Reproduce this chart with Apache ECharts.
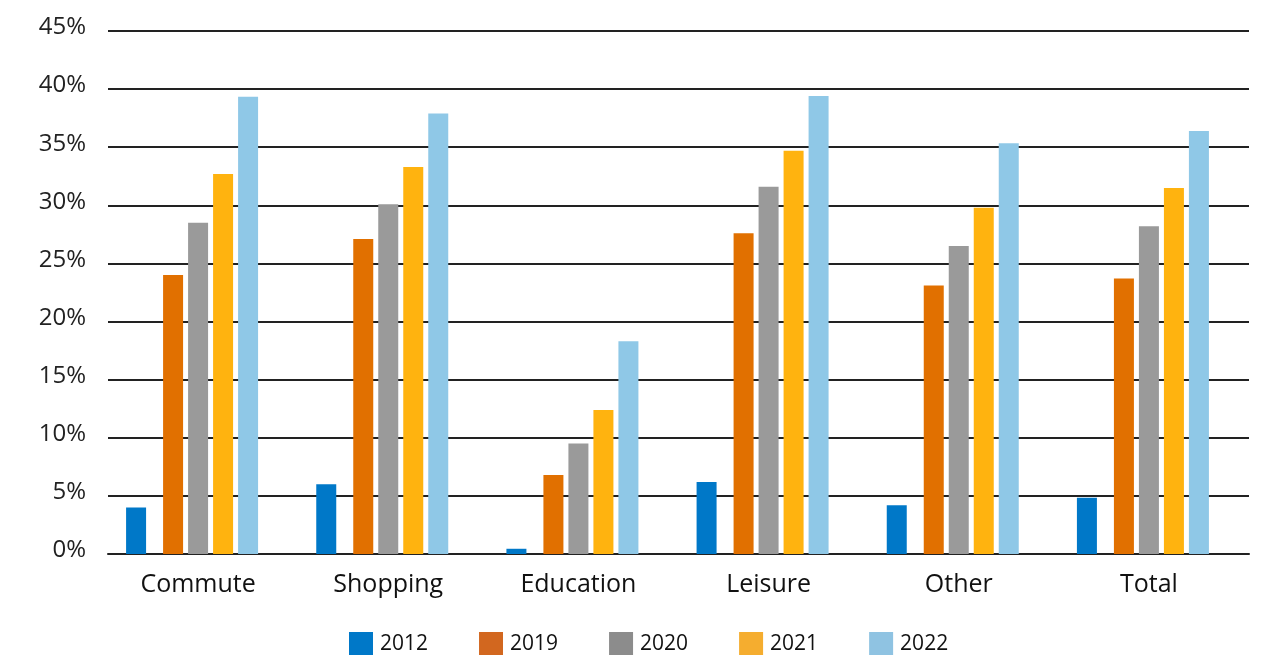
<!DOCTYPE html>
<html>
<head>
<meta charset="utf-8">
<script src="https://cdn.jsdelivr.net/npm/echarts@6/dist/echarts.min.js"></script>
<style>
  html, body { margin: 0; padding: 0; background: #ffffff; }
  #chart { width: 1266px; height: 655px; }
</style>
</head>
<body>
<div id="chart"></div>
<script>
// ---- Data ----
const categories = ['Commute', 'Shopping', 'Education', 'Leisure', 'Other', 'Total'];
const years = ['2012', '2019', '2020', '2021', '2022'];
const v2012 = [4.0, 6.0, 0.45, 6.2, 4.2, 4.85];
const v2019 = [24.0, 27.1, 6.8, 27.6, 23.1, 23.7];
const v2020 = [28.5, 30.1, 9.5, 31.6, 26.5, 28.2];
const v2021 = [32.7, 33.3, 12.4, 34.7, 29.8, 31.5];
const v2022 = [39.35, 37.9, 18.3, 39.4, 35.35, 36.4];
const yTicks = [0, 5, 10, 15, 20, 25, 30, 35, 40, 45];

// ---- Styles ----
const barColors = { '2012': '#0078C8', '2019': '#E17000', '2020': '#9A9A9A', '2021': '#FFB30F', '2022': '#8FC8E7' };
const legendColors = { '2012': '#0078C8', '2019': '#D2671F', '2020': '#8C8C8C', '2021': '#F5AD2F', '2022': '#8FC3E2' };
const FONT = '"Open Sans", "Noto Sans", sans-serif';
const empty = categories.map(() => '-');

const chart = echarts.init(document.getElementById('chart'));

function bar(name, data, axis, width, color) {
  return {
    name: name,
    type: 'bar',
    xAxisIndex: axis,
    data: data,
    barWidth: width,
    barGap: '25%',
    silent: true,
    itemStyle: { color: color || 'transparent' },
    animation: false
  };
}

chart.setOption({
  backgroundColor: '#ffffff',
  animation: false,
  grid: { left: 108, right: 17, top: 31, bottom: 101 },
  legend: {
    left: 344,
    top: 627,
    itemWidth: 24,
    itemHeight: 24,
    itemGap: 51,
    icon: 'rect',
    textStyle: { fontSize: 21, color: '#111', fontFamily: FONT, padding: [0, 0, 0, 2] },
    data: years.map(y => ({ name: y, itemStyle: { color: legendColors[y] } }))
  },
  xAxis: [
    {
      type: 'category',
      data: categories,
      axisLine: { show: true, lineStyle: { color: '#222', width: 2 } },
      axisTick: { show: false },
      axisLabel: { fontSize: 25, color: '#111', margin: 18, fontFamily: FONT, padding: [0, 10, 0, 0] }
    },
    {
      type: 'category',
      data: categories,
      show: false
    }
  ],
  yAxis: {
    type: 'value',
    min: 0,
    max: 45,
    interval: 5,
    axisLine: { show: false },
    axisTick: { show: false },
    axisLabel: {
      fontSize: 24,
      color: '#222',
      margin: 22,
      fontFamily: FONT,
      verticalAlign: 'bottom',
      lineHeight: 7,
      formatter: v => (yTicks.includes(v) ? v + '%' : '')
    },
    splitLine: { lineStyle: { color: '#222', width: 2 } }
  },
  series: [
    bar('_spacerA', empty, 0, 12, null),
    bar('2019', v2019, 0, 20, barColors['2019']),
    bar('2020', v2020, 0, 20, barColors['2020']),
    bar('2021', v2021, 0, 20, barColors['2021']),
    bar('2022', v2022, 0, 20, barColors['2022']),
    bar('2012', v2012, 1, 20, barColors['2012']),
    bar('_spacerB', empty, 1, 129, null)
  ]
});
</script>
</body>
</html>
